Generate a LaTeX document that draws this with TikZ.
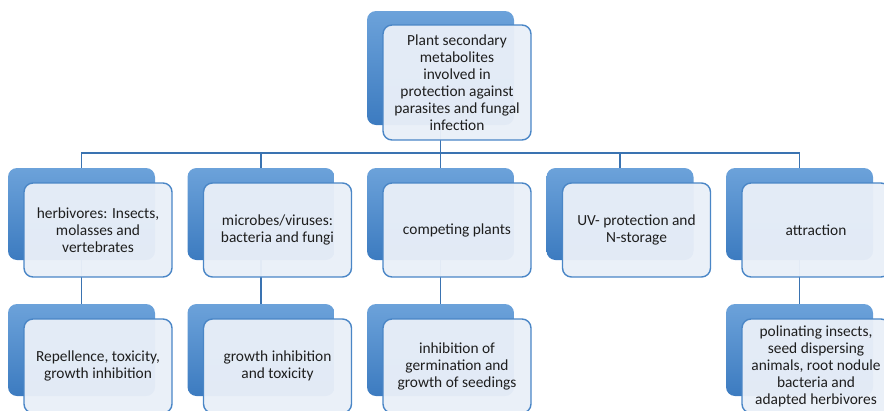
\documentclass[tikz,border=0pt]{standalone}
\usepackage{fontspec}
\setmainfont{Carlito}
\pgfdeclarelayer{bg}
\pgfsetlayers{bg,main}
\definecolor{bluetop}{HTML}{6CA2DA}
\definecolor{bluebot}{HTML}{3C7BC0}
\definecolor{bordblue}{HTML}{4A86C6}
\definecolor{frontfill}{HTML}{E9EFF8}
\definecolor{linkblue}{HTML}{3A73B1}
\definecolor{textgrey}{HTML}{1E1E1E}
\begin{document}
\begin{tikzpicture}[x=1pt,y=-1pt,
  backbox/.style={rectangle, rounded corners=9pt, minimum width=147pt, minimum height=92pt, top color=bluetop, bottom color=bluebot, draw=none, inner sep=0pt},
  frontbox/.style={rectangle, rounded corners=9pt, minimum width=148pt, minimum height=94pt, draw=bordblue, line width=1.4pt, fill=frontfill, fill opacity=0.96, text opacity=1, align=center, font=\fontsize{15.4}{17}\selectfont, text=textgrey, inner sep=2pt},
  link/.style={draw=linkblue, line width=1.4pt}]
\useasboundingbox (0,0) rectangle (884,410);
\clip (0,0) rectangle (884,410);
% top
\node[backbox, minimum height=114pt] (topb) at (440.5,68) {};
\node[frontbox, minimum height=115pt] (topf) at (457,82.5) {Plant secondary\\metabolites\\involved in\\protection against\\parasites and fungal\\infection};
% level 1 back
\node[backbox] (b1) at (81.5,214) {};
\node[backbox] (b2) at (261,214) {};
\node[backbox] (b3) at (440.5,214) {};
\node[backbox] (b4) at (620,214) {};
\node[backbox] (b5) at (799.5,214) {};
% level 2 back
\node[backbox] (e1) at (81.5,350) {};
\node[backbox] (e2) at (261,350) {};
\node[backbox] (e3) at (440.5,350) {};
\node[backbox] (e5) at (799.5,350) {};
% level 1 front
\node[frontbox] (f1) at (98,230) {herbivores: Insects,\\molasses and\\vertebrates};
\node[frontbox] (f2) at (277.5,230) {microbes/viruses:\\bacteria and fungi};
\node[frontbox] (f3) at (457,230) {competing plants};
\node[frontbox] (f4) at (636.5,230) {UV- protection and\\N-storage};
\node[frontbox] (f5) at (816,230) {attraction};
% level 2 front
\node[frontbox] (g1) at (98,366) {Repellence, toxicity,\\growth inhibition};
\node[frontbox] (g2) at (277.5,366) {growth inhibition\\and toxicity};
\node[frontbox] (g3) at (457,366) {inhibition of\\germination and\\growth of seedings};
\node[frontbox] (g5) at (816,366) {polinating insects,\\seed dispersing\\animals, root nodule\\bacteria and\\adapted herbivores};
\coordinate (bus) at (440.5,153);
\begin{pgfonlayer}{bg}
\foreach \c in {b1,b2,b3,b4,b5}
  \draw[link] (topb.south) -- (topb.south |- bus) -| (\c.north);
\draw[link] (b1.south) -- (e1.north);
\draw[link] (b2.south) -- (e2.north);
\draw[link] (b3.south) -- (e3.north);
\draw[link] (b5.south) -- (e5.north);
\end{pgfonlayer}
\end{tikzpicture}
\end{document}
